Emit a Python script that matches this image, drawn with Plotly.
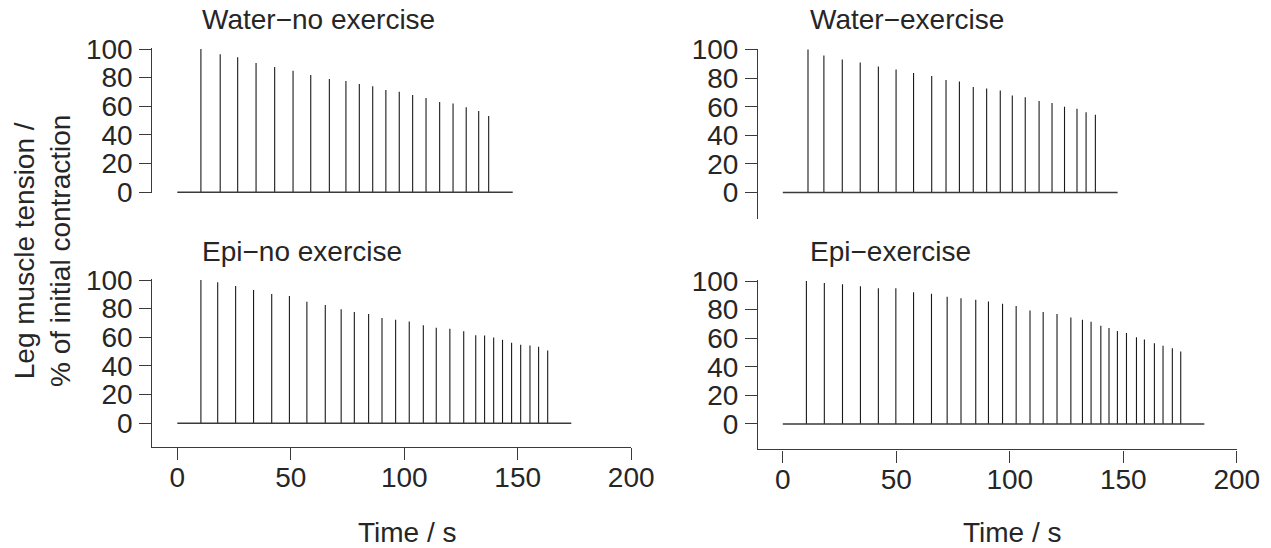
import plotly.graph_objects as go

# ---------------- data ----------------
panel_titles = ["Water\u2212no exercise", "Water\u2212exercise",
                "Epi\u2212no exercise", "Epi\u2212exercise"]

t_water_noex = [10.4, 18.9, 26.6, 34.7, 42.9, 51.0, 58.8, 67.0, 74.3, 80.2,
                86.1, 91.9, 97.8, 103.7, 109.6, 115.6, 121.5, 127.3, 132.8, 137.2]
h_water_noex = [100, 96.3, 94.2, 90.2, 87.4, 84.9, 81.9, 79.1, 77.7, 75.6,
                74.0, 71.4, 70.2, 67.9, 65.8, 63.0, 61.9, 59.3, 56.7, 53.3]
end_water_noex = 147.8

t_water_ex = [11.1, 18.1, 26.2, 34.1, 42.1, 49.9, 57.6, 65.6, 71.9, 77.8, 83.9,
              89.8, 95.8, 101.1, 106.8, 112.9, 118.6, 124.1, 129.6, 133.6, 137.7]
h_water_ex = [100, 95.8, 93.0, 90.9, 88.1, 86.0, 83.6, 81.5, 78.7, 77.6, 73.8,
              72.7, 71.3, 67.8, 66.6, 64.0, 62.6, 60.0, 58.6, 56.1, 54.4]
end_water_ex = 147.5

t_epi_noex = [10.4, 17.8, 25.7, 33.6, 41.6, 49.4, 57.1, 65.2, 72.2, 78.0, 84.3,
              90.2, 96.2, 102.2, 108.4, 114.1, 120.1, 126.2, 131.5, 135.4, 139.4,
              143.3, 147.3, 151.3, 155.4, 159.2, 163.2]
h_epi_noex = [100, 98.4, 95.8, 93.0, 90.2, 88.8, 84.8, 82.5, 79.5, 77.6, 76.2,
              73.4, 72.3, 71.1, 68.5, 66.7, 66.0, 64.3, 61.5, 61.3, 59.9,
              58.3, 56.2, 54.8, 54.3, 53.4, 50.8]
end_epi_noex = 173.6

t_epi_ex = [10.4, 18.3, 26.3, 34.2, 42.1, 49.8, 57.6, 65.5, 72.4, 78.5, 85.0,
            90.6, 96.8, 102.8, 108.9, 114.7, 120.8, 126.9, 132.0, 135.8, 140.1,
            143.7, 147.4, 151.4, 155.8, 159.3, 163.7, 167.5, 171.6, 175.3]
h_epi_ex = [100, 98.6, 97.7, 96.3, 94.9, 94.9, 92.1, 91.1, 89.0, 87.9, 86.9,
            85.7, 84.1, 82.5, 79.4, 78.3, 76.9, 74.5, 72.9, 71.5, 68.7,
            67.1, 65.0, 63.6, 60.7, 59.1, 56.5, 54.7, 53.0, 50.7]
end_epi_ex = 185.7

y_ticks = [0, 20, 40, 60, 80, 100]
x_ticks = [0, 50, 100, 150, 200]
x_title = "Time / s"
y_title = "Leg muscle tension /<br>% of initial contraction"

# ---------------- layout constants ----------------
W, H = 1271, 548
FONT = "Liberation Sans, Arial, Helvetica, sans-serif"
TXT = "#262626"
AX = "#3a3a3a"
FS = 28


def ydomain(px100, px0, lo, hi):
    per = (px0 - px100) / 100.0
    top = px100 - (hi - 100) * per
    bottom = px0 - lo * per
    return [1 - bottom / H, 1 - top / H]


def xdomain(px0, px200, lo):
    per = (px200 - px0) / 200.0
    left = px0 + lo * per
    return [left / W, px200 / W]


panels = [
    # (times, heights, end, xpx0, xpx200, xlo, ypx100, ypx0, ylo, show_x)
    (t_water_noex, h_water_noex, end_water_noex, 177.3, 631.2, -11.0, 49.0, 192.3, -0.5, False),
    (t_water_ex, h_water_ex, end_water_ex, 782.8, 1236.8, -10.9, 49.5, 192.5, -18.6, False),
    (t_epi_noex, h_epi_noex, end_epi_noex, 177.3, 631.2, -11.0, 280.0, 423.3, -16.7, True),
    (t_epi_ex, h_epi_ex, end_epi_ex, 782.8, 1236.8, -10.9, 281.0, 424.0, -17.8, True),
]

fig = go.Figure()
layout = dict(
    width=W, height=H,
    margin=dict(l=0, r=0, t=0, b=0, pad=0, autoexpand=False),
    paper_bgcolor="white", plot_bgcolor="white",
    showlegend=False,
    font=dict(family=FONT, size=FS, color=TXT),
    annotations=[],
)

title_pos = [(200.0, 19.5), (807.5, 19.5), (200.0, 251.0), (807.5, 251.0)]

for i, (ts, hs, end, xp0, xp200, xlo, yp100, yp0, ylo, show_x) in enumerate(panels):
    n = i + 1
    xa = "x" if n == 1 else f"x{n}"
    ya = "y" if n == 1 else f"y{n}"
    # spikes
    xs, ys = [], []
    for t, h in zip(ts, hs):
        xs += [t, t, None]
        ys += [0, h, None]
    fig.add_trace(go.Scatter(x=xs, y=ys, mode="lines", xaxis=xa, yaxis=ya,
                             line=dict(color="#1a1a1a", width=1.1),
                             hoverinfo="skip"))
    # baseline
    fig.add_trace(go.Scatter(x=[0, end], y=[0, 0], mode="lines", xaxis=xa, yaxis=ya,
                             line=dict(color=AX, width=1.5), hoverinfo="skip"))

    xkey = "xaxis" if n == 1 else f"xaxis{n}"
    ykey = "yaxis" if n == 1 else f"yaxis{n}"
    layout[xkey] = dict(
        domain=xdomain(xp0, xp200, xlo), range=[xlo, 200], anchor=ya,
        visible=show_x, showgrid=False, zeroline=False, automargin=False,
        showline=True, linecolor=AX, linewidth=1.2,
        ticks="outside", ticklen=12, tickwidth=1.2, tickcolor=AX,
        tickvals=x_ticks, ticktext=[str(v) for v in x_ticks],
        tickfont=dict(family=FONT, size=FS, color=TXT),
        ticklabelstandoff=-7,
        fixedrange=True,
    )
    layout[ykey] = dict(
        domain=ydomain(yp100, yp0, ylo, 100.5), range=[ylo, 100.5], anchor=xa,
        showgrid=False, zeroline=False, automargin=False,
        showline=True, linecolor=AX, linewidth=1.2,
        ticks="outside", ticklen=12, tickwidth=1.2, tickcolor=AX,
        tickvals=y_ticks, ticktext=[str(v) for v in y_ticks],
        tickfont=dict(family=FONT, size=FS, color=TXT),
        ticklabelstandoff=1,
        fixedrange=True,
    )
    tx, ty = title_pos[i]
    layout["annotations"].append(dict(
        text=panel_titles[i], xref="paper", yref="paper",
        x=tx / W, y=1 - ty / H, xanchor="left", yanchor="middle",
        showarrow=False, font=dict(family=FONT, size=FS, color=TXT)))

# x titles
for cx in (407.5, 1012.5):
    layout["annotations"].append(dict(
        text=x_title, xref="paper", yref="paper",
        x=cx / W, y=1 - 532 / H, xanchor="center", yanchor="middle",
        showarrow=False, font=dict(family=FONT, size=FS, color=TXT)))

# y title
layout["annotations"].append(dict(
    text=y_title, xref="paper", yref="paper",
    x=42 / W, y=1 - 251 / H, xanchor="center", yanchor="middle",
    textangle=-90, showarrow=False,
    font=dict(family=FONT, size=FS, color=TXT)))

fig.update_layout(**layout)
fig.write_html(
    "out.html",
    config={"displayModeBar": False},
    post_script="document.body.style.margin='0px';document.body.style.overflow='hidden';",
)
